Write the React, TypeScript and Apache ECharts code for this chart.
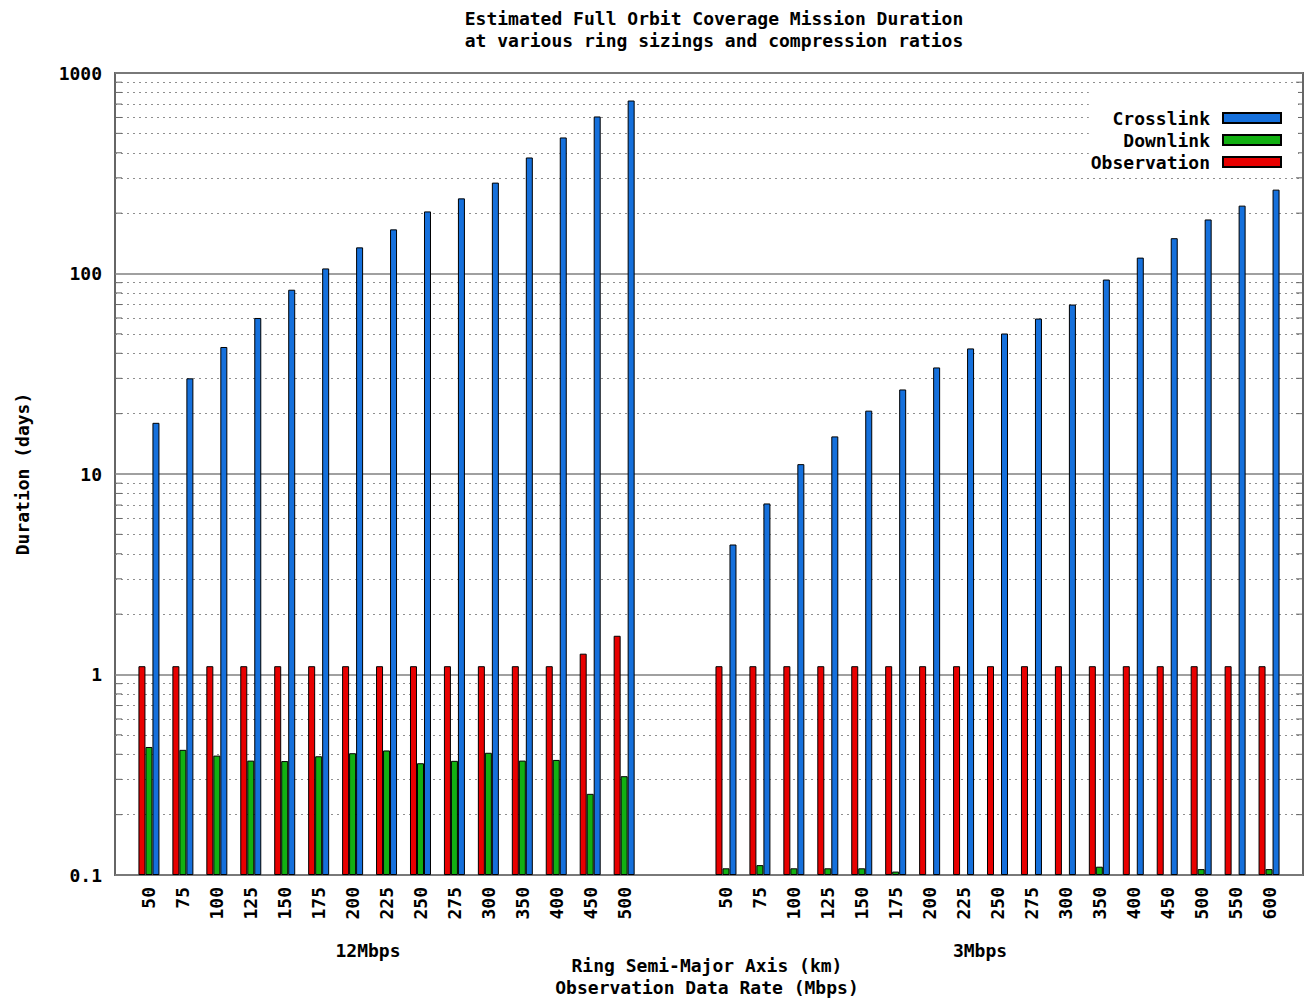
import React, { useEffect, useRef } from "react";
import * as echarts from "echarts";

// ---- data ----
const catsHigh = ["50", "75", "100", "125", "150", "175", "200", "225", "250", "275", "300", "350", "400", "450", "500"];
const catsLow = ["50", "75", "100", "125", "150", "175", "200", "225", "250", "275", "300", "350", "400", "450", "500", "550", "600"];

const crossHigh = [18, 30, 43, 60, 83, 106, 135, 166, 204, 237, 284, 379, 477, 607, 729];
const downHigh = [0.435, 0.421, 0.394, 0.372, 0.37, 0.391, 0.405, 0.418, 0.361, 0.371, 0.407, 0.372, 0.375, 0.254, 0.311];
const obsHigh = [1.1, 1.1, 1.1, 1.1, 1.1, 1.1, 1.1, 1.1, 1.1, 1.1, 1.1, 1.1, 1.1, 1.27, 1.56];

const crossLow = [4.45, 7.13, 11.2, 15.4, 20.7, 26.4, 34, 42.3, 50.2, 59.6, 70, 93.3, 120, 150, 186, 218, 262];
const downLow = [0.108, 0.112, 0.108, 0.108, 0.108, 0.104, null, null, null, null, null, 0.11, null, null, 0.107, null, 0.107];
const obsLow = [1.1, 1.1, 1.1, 1.1, 1.1, 1.1, 1.1, 1.1, 1.1, 1.1, 1.1, 1.1, 1.1, 1.1, 1.1, 1.1, 1.1];

const groupNames = ["12Mbps", "3Mbps"];
const titleLines = ["Estimated Full Orbit Coverage Mission Duration", "at various ring sizings and compression ratios"];
const xTitleLines = ["Ring Semi-Major Axis (km)", "Observation Data Rate (Mbps)"];
const yTitle = "Duration (days)";
const decades = [0.1, 1, 10, 100];
const minorSteps = [2, 3, 4, 5, 6, 7, 8, 9];

const FONT = '"DejaVu Sans Mono", monospace';
const FS = 18;

function pad<T>(a: T[], b: T[]): (T | null)[] {
  return [null, ...a, null, null, ...b, null];
}

export default function App() {
  const ref = useRef<HTMLDivElement>(null);
  useEffect(() => {
    document.body.style.margin = "0";
    const chart = echarts.init(ref.current!, null, { renderer: "svg" });
    const categories = pad(catsHigh, catsLow).map((c) => (c == null ? "" : c));
    const minorVals: number[] = [];
    decades.forEach((d) => minorSteps.forEach((m) => minorVals.push(+(d * m).toPrecision(3))));
    const common = {
      type: "bar" as const,
      barWidth: 7,
      barGap: "0%",
      itemStyle: { borderColor: "#000", borderWidth: 1 },
    };
    const txt = (text: string, x: number, y: number) => ({
      type: "text",
      x,
      y,
      style: { text, align: "center", verticalAlign: "middle", font: `bold ${FS}px ${FONT}`, fill: "#000" },
    });
    chart.setOption({
      animation: false,
      textStyle: { fontFamily: FONT },
      title: {
        text: titleLines.join("\n"),
        left: 709,
        textAlign: "center",
        top: 2,
        textStyle: { fontFamily: FONT, fontSize: FS, fontWeight: "bold", color: "#000", lineHeight: 22 },
      },
      legend: {
        orient: "vertical",
        right: 9,
        top: 85,
        align: "right",
        icon: "rect",
        padding: [24, 16, 3, 2],
        backgroundColor: "#fff",
        itemWidth: 58,
        itemHeight: 10,
        itemGap: 4,
        data: ["Crosslink", "Downlink", "Observation"],
        textStyle: { fontFamily: FONT, fontSize: FS, fontWeight: "bold", color: "#000", padding: [0, 8, 0, 0] },
      },
      grid: {
        left: 115,
        right: 4,
        top: 73,
        bottom: 123,
        show: true,
        borderColor: "#666",
        borderWidth: 2,
      },
      xAxis: {
        type: "category",
        data: categories,
        boundaryGap: false,
        axisLine: { show: false },
        axisTick: { show: false },
        axisLabel: {
          interval: 0,
          rotate: 90,
          margin: 12,
          fontFamily: FONT,
          fontSize: FS,
          fontWeight: "bold",
          color: "#000",
        },
      },
      yAxis: {
        type: "log",
        logBase: 10,
        min: 0.1,
        max: 1000,
        startValue: 0.1,
        axisLine: { show: false },
        axisTick: { show: false },
        axisLabel: {
          margin: 13,
          fontFamily: FONT,
          fontSize: FS,
          fontWeight: "bold",
          color: "#000",
          formatter: (v: number) => String(v),
        },
        splitLine: { show: true, lineStyle: { color: "#808080", width: 1.5 } },
        name: yTitle,
        nameLocation: "middle",
        nameGap: 84,
        nameRotate: 90,
        nameTextStyle: { fontFamily: FONT, fontSize: FS, fontWeight: "bold", color: "#000" },
      },
      series: [
        {
          ...common,
          name: "Observation",
          data: pad(obsHigh, obsLow),
          itemStyle: { ...common.itemStyle, color: "#e80000" },
          markLine: {
            silent: true,
            symbol: "none",
            z: 1,
            label: { show: false },
            lineStyle: { color: "#8f8f8f", type: [2, 4], width: 1 },
            data: minorVals.map((v) => ({ yAxis: v })),
          },
        },
        {
          ...common,
          name: "Downlink",
          data: pad(downHigh, downLow),
          itemStyle: { ...common.itemStyle, color: "#12b012" },
        },
        {
          ...common,
          name: "Crosslink",
          data: pad(crossHigh, crossLow),
          itemStyle: { ...common.itemStyle, color: "#1570dc" },
        },
        {
          type: "custom",
          name: "ticks",
          silent: true,
          z: 1,
          data: minorVals.map((v) => [0, v]),
          renderItem: (params: any, api: any) => {
            const y = api.coord([0, api.value(1)])[1];
            const cs = params.coordSys;
            const st = { stroke: "#666", lineWidth: 1 };
            return {
              type: "group",
              children: [
                { type: "line", shape: { x1: cs.x, y1: y, x2: cs.x + 7, y2: y }, style: st },
                { type: "line", shape: { x1: cs.x + cs.width - 7, y1: y, x2: cs.x + cs.width, y2: y }, style: st },
              ],
            };
          },
        },
      ],
      graphic: [
        txt(groupNames[0], 368, 950),
        txt(groupNames[1], 980, 950),
        txt(xTitleLines[0], 707, 965),
        txt(xTitleLines[1], 707, 987),
      ],
    });
    return () => chart.dispose();
  }, []);
  return <div ref={ref} style={{ width: 1307, height: 998 }} />;
}
